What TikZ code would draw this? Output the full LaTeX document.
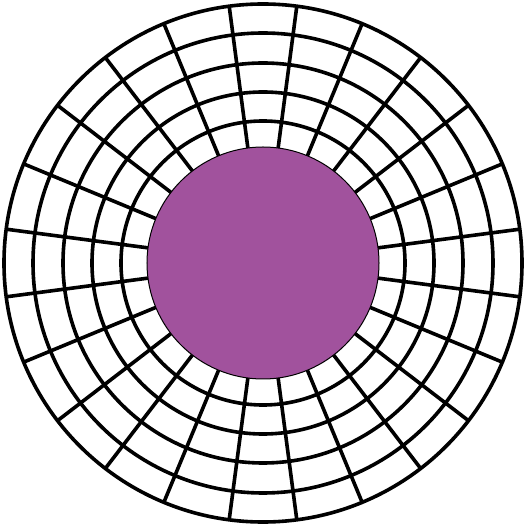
\documentclass[tikz,border=0pt]{standalone}
\definecolor{discpurple}{RGB}{161,82,157}
\tikzset{
  gridline/.style={draw=black, line width=3.6pt},
  disc/.style={circle, fill=discpurple, draw=black, line width=1pt, minimum size=232pt, inner sep=0pt}
}
\begin{document}
\begin{tikzpicture}[x=1pt,y=1pt]
\useasboundingbox (-263,-263) rectangle (263,263);
\coordinate (c) at (0,0);
\foreach \k in {0,...,23}{
  \pgfmathsetmacro{\ang}{7.5+15*\k}
  \coordinate (i\k) at (\ang:115);
  \coordinate (o\k) at (\ang:259);
  \draw[gridline] (i\k) -- (o\k);
}
\foreach \r in {142,171,200,230,259}{
  \draw[gridline] (c) circle (\r);
}
\node[disc] (core) at (c) {};
\end{tikzpicture}
\end{document}
